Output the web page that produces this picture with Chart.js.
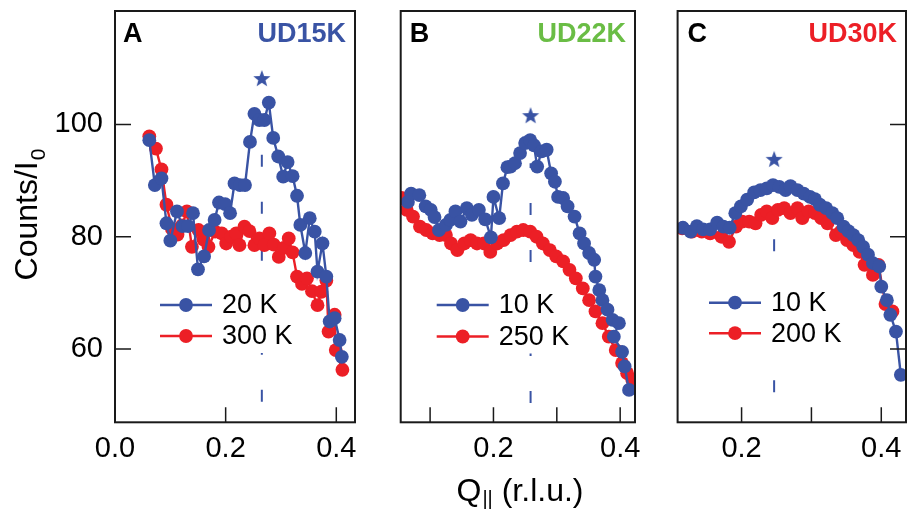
<!DOCTYPE html>
<html>
<head>
<meta charset="utf-8">
<script src="https://cdn.jsdelivr.net/npm/chart.js@4.4.0/dist/chart.umd.min.js"></script>
<style>
  body { margin: 0; background: #fff; width: 916px; height: 513px; position: relative; overflow: hidden; }
  .panel { position: absolute; top: 0; height: 513px; }
</style>
</head>
<body>
<div class="panel" style="left:0;width:365px"><canvas id="panel-a"></canvas></div>
<div class="panel" style="left:365px;width:280px"><canvas id="panel-b"></canvas></div>
<div class="panel" style="left:645px;width:271px"><canvas id="panel-c"></canvas></div>
<script>
// Panel A - UD15K
const qA20 = [0.062, 0.072, 0.084, 0.093, 0.100, 0.112, 0.122, 0.132, 0.141, 0.150, 0.161, 0.170, 0.180, 0.188, 0.199, 0.208, 0.216, 0.226, 0.235, 0.244, 0.252, 0.261, 0.270, 0.278, 0.286, 0.295, 0.304, 0.312, 0.321, 0.329, 0.335, 0.344, 0.352, 0.361, 0.366, 0.375, 0.382, 0.388, 0.397, 0.406, 0.410];
const cA20 = [97.2, 89.2, 90.4, 82.4, 79.3, 84.5, 81.9, 81.9, 84.2, 74.2, 76.5, 81.2, 83.0, 86.1, 85.8, 84.2, 89.5, 89.2, 89.2, 96.9, 101.9, 100.8, 100.8, 103.9, 97.6, 94.3, 90.7, 93.3, 90.8, 87.3, 82.1, 77.1, 83.3, 80.9, 73.8, 78.8, 72.9, 64.9, 65.5, 61.6, 58.6];
const qA300 = [0.062, 0.074, 0.084, 0.093, 0.103, 0.113, 0.121, 0.130, 0.139, 0.151, 0.160, 0.169, 0.181, 0.193, 0.201, 0.210, 0.219, 0.225, 0.234, 0.243, 0.252, 0.261, 0.270, 0.279, 0.287, 0.296, 0.305, 0.314, 0.321, 0.329, 0.338, 0.347, 0.356, 0.366, 0.373, 0.382, 0.386, 0.397, 0.399, 0.411];
const cA300 = [97.9, 95.7, 92.0, 85.7, 81.4, 80.4, 82.0, 84.5, 78.2, 81.2, 79.5, 78.2, 80.9, 80.6, 78.8, 80.0, 80.6, 78.5, 81.8, 81.0, 78.5, 79.7, 78.5, 80.6, 78.6, 76.4, 78.0, 79.7, 77.2, 72.9, 71.6, 72.6, 70.3, 67.8, 70.2, 72.2, 63.1, 66.1, 59.8, 56.3];

// Panel B - UD22K
const qB10 = [0.065, 0.070, 0.083, 0.093, 0.101, 0.107, 0.114, 0.125, 0.132, 0.140, 0.148, 0.158, 0.166, 0.177, 0.187, 0.196, 0.200, 0.209, 0.215, 0.222, 0.227, 0.234, 0.242, 0.250, 0.258, 0.264, 0.269, 0.276, 0.284, 0.291, 0.297, 0.302, 0.310, 0.317, 0.328, 0.336, 0.343, 0.351, 0.359, 0.361, 0.367, 0.372, 0.380, 0.388, 0.398, 0.390, 0.403, 0.407, 0.414];
const cB10 = [86.2, 87.7, 87.4, 85.4, 84.8, 83.5, 81.2, 82.1, 83.0, 84.5, 82.7, 85.1, 83.9, 84.8, 83.1, 79.9, 87.1, 83.3, 89.5, 92.4, 92.5, 93.1, 94.9, 96.7, 97.2, 96.3, 92.5, 95.2, 95.5, 91.3, 89.8, 87.1, 86.9, 85.4, 83.6, 80.6, 78.8, 77.1, 75.9, 72.9, 70.5, 68.7, 67.0, 65.2, 64.6, 62.2, 59.5, 56.9, 52.7];
const qB250 = [0.055, 0.063, 0.073, 0.084, 0.094, 0.104, 0.115, 0.125, 0.133, 0.143, 0.154, 0.164, 0.174, 0.185, 0.195, 0.206, 0.216, 0.227, 0.237, 0.247, 0.258, 0.268, 0.278, 0.289, 0.299, 0.310, 0.320, 0.330, 0.341, 0.351, 0.361, 0.372, 0.382, 0.393, 0.403, 0.411, 0.419];
const cB250 = [86.9, 84.8, 83.6, 81.8, 81.2, 80.6, 80.3, 80.3, 78.8, 77.6, 78.8, 79.4, 78.8, 78.8, 77.3, 78.8, 79.4, 80.3, 80.9, 81.2, 80.9, 80.0, 78.8, 77.6, 76.5, 75.6, 74.1, 72.6, 70.8, 68.7, 66.7, 64.6, 62.2, 59.8, 57.5, 55.7, 54.5];

// Panel C - UD30K
const qC10 = [0.116, 0.127, 0.136, 0.145, 0.155, 0.165, 0.174, 0.183, 0.191, 0.199, 0.208, 0.218, 0.227, 0.236, 0.245, 0.254, 0.263, 0.270, 0.280, 0.289, 0.298, 0.305, 0.312, 0.321, 0.330, 0.337, 0.346, 0.353, 0.360, 0.367, 0.374, 0.381, 0.388, 0.397, 0.400, 0.408, 0.413, 0.421, 0.428];
const cC10 = [81.6, 80.9, 81.9, 81.3, 81.3, 82.5, 81.8, 81.6, 84.2, 85.4, 86.6, 87.9, 88.3, 88.6, 89.2, 88.9, 88.3, 89.0, 88.3, 87.7, 87.1, 86.7, 85.7, 85.1, 84.2, 83.3, 81.8, 81.0, 80.3, 79.4, 78.2, 76.8, 75.3, 74.7, 71.1, 68.7, 66.1, 63.1, 55.4];
const qC200 = [0.115, 0.129, 0.143, 0.155, 0.171, 0.182, 0.192, 0.201, 0.211, 0.220, 0.228, 0.236, 0.244, 0.252, 0.261, 0.270, 0.280, 0.287, 0.296, 0.305, 0.314, 0.323, 0.335, 0.342, 0.351, 0.360, 0.369, 0.376, 0.383, 0.388, 0.396, 0.406, 0.416];
const cC200 = [81.5, 80.9, 80.9, 80.6, 80.0, 79.1, 81.8, 82.7, 82.7, 82.4, 83.9, 84.5, 83.3, 84.8, 85.1, 84.2, 85.1, 83.3, 84.5, 84.2, 83.3, 82.4, 80.3, 80.9, 79.4, 78.5, 77.3, 75.0, 75.3, 73.2, 75.0, 68.0, 66.7];

// star marker + dashed guide at the peak
const peakQ = [0.2654, 0.2586, 0.2466];
const starCounts = [108.1, 101.5, 93.7];
const dashTop = [97.2, 93.1, 80.7];
const dashBottom = [50.6, 50.4, 52.3];

// axes
const yRange = [46.94, 120.22];
const yTicks = [60, 80, 100];
const xRangeA = [0, 0.4338], xRangeB = [0.0536, 0.4234], xRangeC = [0.1084, 0.4354];
const xTicksA = [0.0, 0.2, 0.4], xTicksB = [0.1, 0.2, 0.3, 0.4], xTicksC = [0.2, 0.3, 0.4];
const xLabelled = [0.0, 0.2, 0.4];

const BLUE = '#3953a4', RED = '#ec1f26', GREEN = '#6abd45', INK = '#1a1a1a';
const FONT = '"Liberation Sans", Arial, sans-serif';
const DOT = 6.9;

function zip(q, c) { return q.map((v, i) => ({ x: v, y: c[i] })); }

function starImage(color, r) {
    const s = Math.ceil(r * 2 + 2);
    const c = document.createElement('canvas');
    c.width = c.height = s;
    const g = c.getContext('2d');
    g.fillStyle = color;
    g.beginPath();
    for (let i = 0; i < 10; i++) {
        const rad = i % 2 ? r * 0.42 : r;
        const ang = -Math.PI / 2 + i * Math.PI / 5;
        g.lineTo(s / 2 + rad * Math.cos(ang), s / 2 + rad * Math.sin(ang));
    }
    g.closePath();
    g.fill();
    return c;
}
const star = starImage(BLUE, 9);

// no label overhang padding, so the plot box sits where we put it
function noPad(s) { s.paddingTop = s.paddingBottom = s.paddingLeft = s.paddingRight = 0; }

// frame, inward ticks, panel labels, legend, axis titles
const panelDecor = {
    id: 'panelDecor',
    afterDatasetsDraw(chart, args, o) {
        const { ctx, chartArea: a, scales } = chart;
        ctx.save();

        // legend (white box hides the dashed guide)
        ctx.textAlign = 'left';
        ctx.textBaseline = 'middle';
        ctx.font = '27px ' + FONT;
        const items = chart.data.datasets.filter(d => d.inLegend);
        const textW = Math.max(...items.map(d => ctx.measureText(d.label).width));
        ctx.fillStyle = '#fff';
        ctx.fillRect(o.legendX - 3, o.legendY - 17, 62 + textW + 6, o.legendGap + 34);
        items.forEach((d, i) => {
            const y = o.legendY + i * o.legendGap;
            ctx.strokeStyle = d.borderColor;
            ctx.lineWidth = 2.4;
            ctx.beginPath();
            ctx.moveTo(o.legendX, y);
            ctx.lineTo(o.legendX + 52, y);
            ctx.stroke();
            ctx.fillStyle = d.borderColor;
            ctx.beginPath();
            ctx.arc(o.legendX + 26, y, DOT, 0, Math.PI * 2);
            ctx.fill();
            ctx.fillStyle = '#000';
            ctx.fillText(d.label, o.legendX + 62, y + 1);
        });

        ctx.strokeStyle = INK;
        ctx.lineWidth = 2;
        ctx.strokeRect(a.left, a.top, a.right - a.left, a.bottom - a.top);

        ctx.lineWidth = 1.5;
        ctx.beginPath();
        o.xTicks.forEach(v => {
            const x = scales.x.getPixelForValue(v);
            ctx.moveTo(x, a.bottom);
            ctx.lineTo(x, a.bottom - 15);
        });
        if (o.ySide) {
            const x0 = o.ySide === 'left' ? a.left : a.right;
            const dir = o.ySide === 'left' ? 1 : -1;
            yTicks.forEach(v => {
                const y = scales.y.getPixelForValue(v);
                ctx.moveTo(x0, y);
                ctx.lineTo(x0 + dir * 16, y);
            });
        }
        ctx.stroke();

        // panel letter + sample name
        ctx.textBaseline = 'alphabetic';
        ctx.font = 'bold 27px ' + FONT;
        ctx.fillStyle = '#000';
        ctx.textAlign = 'left';
        ctx.fillText(o.letter, a.left + o.letterDx, 42);
        ctx.fillStyle = o.sampleColor;
        ctx.textAlign = 'right';
        ctx.fillText(o.sample, a.right - 9, 42);

        // axis titles
        ctx.fillStyle = '#000';
        ctx.textBaseline = 'alphabetic';
        if (o.yTitle) {
            ctx.save();
            ctx.translate(37, 215);
            ctx.rotate(-Math.PI / 2);
            ctx.font = '32px ' + FONT;
            const w1 = ctx.measureText('Counts/I').width;
            ctx.font = '21px ' + FONT;
            const w2 = ctx.measureText('0').width;
            const start = -(w1 + w2) / 2;
            ctx.textAlign = 'left';
            ctx.font = '32px ' + FONT;
            ctx.fillText('Counts/I', start, 0);
            ctx.font = '21px ' + FONT;
            ctx.fillText('0', start + w1 + 1, 8);
            ctx.restore();
        }
        if (o.xTitle) {
            ctx.textAlign = 'left';
            ctx.font = '32px ' + FONT;
            const wq = ctx.measureText('Q').width;
            const wr = ctx.measureText(' (r.l.u.)').width;
            ctx.font = '20px ' + FONT;
            const ws = ctx.measureText('||').width;
            const start = o.xTitle - (wq + ws + wr + 1) / 2;
            ctx.font = '32px ' + FONT;
            ctx.fillText('Q', start, 501);
            ctx.font = '20px ' + FONT;
            ctx.fillText('||', start + wq + 1, 505);
            ctx.font = '32px ' + FONT;
            ctx.fillText(' (r.l.u.)', start + wq + ws + 1, 501);
        }
        ctx.restore();
    }
};

function makePanel(id, cfg) {
    const i = cfg.index;
    new Chart(document.getElementById(id), {
        type: 'line',
        data: {
            datasets: [
                {
                    label: cfg.lowLabel, inLegend: true, data: zip(cfg.lowQ, cfg.lowC),
                    borderColor: BLUE, backgroundColor: BLUE, borderWidth: 2.4,
                    pointRadius: DOT, pointBorderWidth: 0, pointBackgroundColor: BLUE, order: 1
                },
                {
                    label: cfg.highLabel, inLegend: true, data: zip(cfg.highQ, cfg.highC),
                    borderColor: RED, backgroundColor: RED, borderWidth: 2.4,
                    pointRadius: DOT, pointBorderWidth: 0, pointBackgroundColor: RED, order: 2
                },
                {
                    label: 'peak', data: [{ x: peakQ[i], y: dashBottom[i] }, { x: peakQ[i], y: dashTop[i] }],
                    borderColor: BLUE, borderWidth: 2, borderDash: [12, 35], pointRadius: 0, order: 3
                },
                {
                    label: 'star', data: [{ x: peakQ[i], y: starCounts[i] }], showLine: false,
                    pointStyle: star, pointRadius: 9, order: 0
                }
            ]
        },
        options: {
            responsive: true,
            maintainAspectRatio: false,
            animation: false,
            events: [],
            layout: { padding: cfg.padding },
            plugins: {
                legend: { display: false },
                tooltip: { enabled: false },
                panelDecor: cfg.decor
            },
            scales: {
                x: {
                    type: 'linear', min: cfg.xRange[0], max: cfg.xRange[1],
                    afterBuildTicks: s => { s.ticks = cfg.xTicks.map(v => ({ value: v })); },
                    afterFit: s => { s.height = 90.7; noPad(s); },
                    grid: { display: false, drawTicks: false },
                    border: { display: false },
                    ticks: {
                        autoSkip: false, maxRotation: 0, padding: 9, color: '#000',
                        font: { family: FONT, size: 29 },
                        callback: v => xLabelled.includes(v) ? v.toFixed(1) : ''
                    }
                },
                y: {
                    type: 'linear', min: yRange[0], max: yRange[1], display: cfg.showY,
                    afterBuildTicks: s => { s.ticks = yTicks.map(v => ({ value: v })); },
                    afterFit: s => { s.width = cfg.yWidth; noPad(s); },
                    grid: { display: false, drawTicks: false },
                    border: { display: false },
                    ticks: { padding: 12, color: '#000', font: { family: FONT, size: 29 } }
                }
            }
        },
        plugins: [panelDecor]
    });
}

makePanel('panel-a', {
    index: 0, lowLabel: '20 K', highLabel: '300 K',
    lowQ: qA20, lowC: cA20, highQ: qA300, highC: cA300,
    xRange: xRangeA, xTicks: xTicksA, showY: true, yWidth: 115,
    padding: { top: 11, right: 6, left: 0, bottom: 0 },
    decor: { xTicks: xTicksA, ySide: 'left', letter: 'A', letterDx: 8, sample: 'UD15K', sampleColor: BLUE,
             legendX: 160, legendY: 305, legendGap: 31, yTitle: true }
});
makePanel('panel-b', {
    index: 1, lowLabel: '10 K', highLabel: '250 K',
    lowQ: qB10, lowC: cB10, highQ: qB250, highC: cB250,
    xRange: xRangeB, xTicks: xTicksB, showY: false, yWidth: 0,
    padding: { top: 11, right: 7, left: 35.7, bottom: 0 },
    decor: { xTicks: xTicksB, ySide: null, letter: 'B', letterDx: 9, sample: 'UD22K', sampleColor: GREEN,
             legendX: 71.7, legendY: 305, legendGap: 31.5, xTitle: 155 }
});
makePanel('panel-c', {
    index: 2, lowLabel: '10 K', highLabel: '200 K',
    lowQ: qC10, lowC: cC10, highQ: qC200, highC: cC200,
    xRange: xRangeC, xTicks: xTicksC, showY: false, yWidth: 0,
    padding: { top: 11, right: 1.3, left: 32.6, bottom: 0 },
    decor: { xTicks: xTicksC, ySide: 'right', letter: 'C', letterDx: 10, sample: 'UD30K', sampleColor: RED,
             legendX: 64, legendY: 302.7, legendGap: 30.5 }
});
</script>
</body>
</html>
